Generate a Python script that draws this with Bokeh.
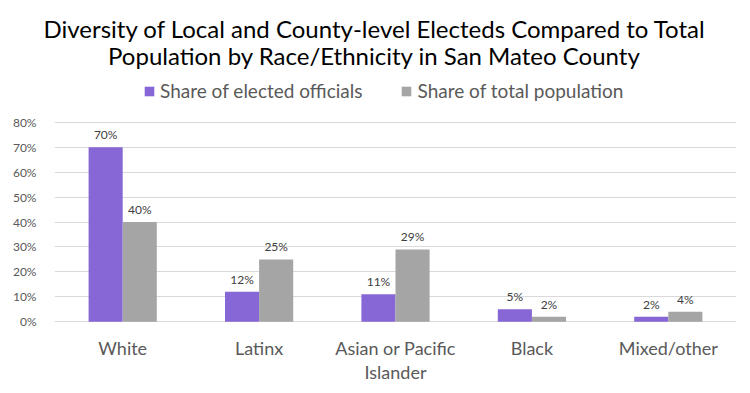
from bokeh.plotting import figure
from bokeh.models import (ColumnDataSource, FactorRange, Range1d, Label, Legend, LegendItem,
                          FixedTicker, PrintfTickFormatter, Title)
from bokeh.transform import dodge
from bokeh.core.properties import value
from bokeh.embed import file_html
from bokeh.resources import INLINE

categories = ["White", "Latinx", "Asian or Pacific Islander", "Black", "Mixed/other"]
category_labels = ["White", "Latinx", "Asian or Pacific\nIslander", "Black", "Mixed/other"]
elected = [70, 12, 11, 5, 2]
population = [40, 25, 29, 2, 4]
y_ticks = [0, 10, 20, 30, 40, 50, 60, 70, 80]
series_names = ["Share of elected officials", "Share of total population"]
title_lines = ["Diversity of Local and County-level Electeds Compared to Total",
               "Population by Race/Ethnicity in San Mateo County"]

FONT = "Lato"
PURPLE = "#8766D6"
GREY = "#A5A5A5"
TXT = "#595959"

src = ColumnDataSource(dict(
    cat=categories, lab=category_labels,
    zero=[0] * len(categories),
    e=elected, p=population,
    el=[f"{v}%" for v in elected],
    pl=[f"{v}%" for v in population],
))

# frame covers everything below the first title line, so the legend, second title line
# and category names (drawn inside it) are not clipped
p = figure(width=742, height=390, x_range=FactorRange(*categories), y_range=Range1d(-27.53, 110.74),
           output_backend="svg", toolbar_location=None,
           min_border_left=54, min_border_right=6, min_border_bottom=0, min_border_top=45)
p.outline_line_color = None
p.xaxis.visible = False

r1 = p.vbar(x=dodge("cat", -0.125, range=p.x_range), top="e", width=0.25, source=src,
            fill_color=PURPLE, line_color=None)
r2 = p.vbar(x=dodge("cat", 0.125, range=p.x_range), top="p", width=0.25, source=src,
            fill_color=GREY, line_color=None)

for col, off in (("el", -0.125), ("pl", 0.125)):
    p.text(x=dodge("cat", off, range=p.x_range), y=col[0], text=col, source=src,
           text_align="center", text_baseline="bottom", y_offset=-5,
           text_font=value(FONT), text_font_size="12px", text_color="#404040")

# category names under the axis
p.text(x="cat", y="zero", text="lab", source=src, text_align="center", text_baseline="top",
       y_offset=15, text_font=value(FONT), text_font_size="18px", text_color=TXT,
       text_line_height=1.1)

# y axis
p.yaxis.ticker = FixedTicker(ticks=y_ticks)
p.yaxis.formatter = PrintfTickFormatter(format="%d%%")
p.yaxis.axis_line_color = None
p.yaxis.major_tick_line_color = None
p.yaxis.minor_tick_line_color = None
p.yaxis.major_label_text_font = FONT
p.yaxis.major_label_text_font_size = "12px"
p.yaxis.major_label_text_color = TXT
p.yaxis.major_label_standoff = 12

p.xgrid.grid_line_color = None
p.ygrid.grid_line_color = "#D9D9D9"
p.ygrid.grid_line_width = 1

legend = Legend(items=[LegendItem(label=series_names[0], renderers=[r1]),
                       LegendItem(label=series_names[1], renderers=[r2])],
                orientation="horizontal", location=(89, 288),
                label_text_font=FONT, label_text_font_size="19px", label_text_color=TXT,
                glyph_width=12, glyph_height=12, label_standoff=5, spacing=38,
                border_line_color=None, background_fill_alpha=0, padding=2, margin=0)
p.add_layout(legend, "center")

p.add_layout(Title(text=title_lines[0], align="left", offset=-11, standoff=6,
                   text_font=FONT, text_font_size="24px", text_font_style="normal",
                   text_color="#000000"), "above")
p.add_layout(Label(text=title_lines[1], x=320, y=335, x_units="screen", y_units="screen",
                   text_align="center", text_baseline="middle",
                   text_font=FONT, text_font_size="24px", text_color="#000000"))

open("out.html", "w").write(file_html(p, INLINE))
